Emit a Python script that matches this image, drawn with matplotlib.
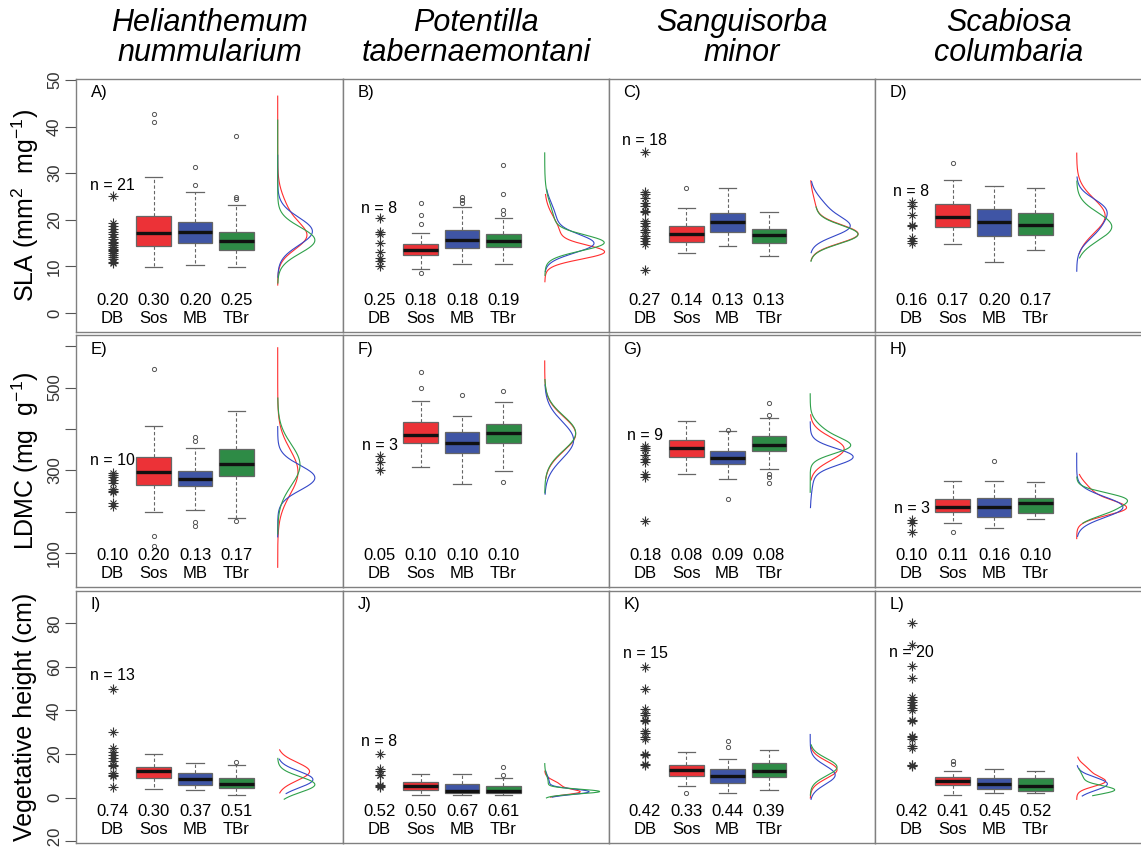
#!/usr/bin/env python3
"""Trait distributions of four grassland forbs: dispersal bank (DB) vs. the
three source populations (Sos, MB, TBr), with CVs and density outlines."""
import numpy as np
import matplotlib
matplotlib.use("Agg")
import matplotlib.pyplot as plt

species = ["Helianthemum\nnummularium", "Potentilla\ntabernaemontani",
           "Sanguisorba\nminor", "Scabiosa\ncolumbaria"]
groups = ["DB", "Sos", "MB", "TBr"]
traits = [r"SLA (mm$^{2}$  mg$^{-1}$)", r"LDMC (mg  g$^{-1}$)",
          "Vegetative height (cm)"]
letters = list("ABCDEFGHIJKL")

# y axis per trait row: ticks, which ticks get labels
row_ylim = [(-4.1, 50.2), (18, 626), (-20.8, 94.8)]
row_ticks = [[0, 10, 20, 30, 40, 50], [100, 200, 300, 400, 500, 600],
             [-20, 0, 20, 40, 60, 80]]
row_ticklabels = [["0", "10", "20", "30", "40", "50"],
                  ["100", "", "300", "", "500", ""],
                  ["\u221220", "0", "20", "40", "60", "80"]]

# dispersal bank: single values (panels A..L)
db_values = [
    [25.0, 19.3, 18.6, 18.0, 17.4, 16.9, 16.3, 15.8, 15.3, 14.9, 14.5, 14.1,
     13.8, 13.5, 13.2, 12.9, 12.4, 12.0, 11.5, 11.0, 10.8],
    [20.3, 17.3, 16.9, 15.1, 13.1, 11.7, 11.2, 10.1],
    [34.6, 26.0, 25.5, 24.6, 23.5, 22.9, 21.9, 21.6, 19.7, 19.3, 18.7, 17.8,
     17.3, 16.6, 16.0, 15.4, 14.8, 9.2],
    [23.9, 23.0, 21.0, 18.9, 18.6, 16.0, 15.4, 15.0],
    [293, 288, 283, 276, 270, 254, 250, 247, 220, 213],
    [334, 320, 302],
    [360, 355, 348, 336, 328, 320, 292, 284, 178],
    [179, 172, 150],
    [50, 30, 22.8, 21, 19.5, 18, 17, 15, 14.5, 11.3, 10.3, 9.8, 5],
    [20.0, 13.2, 12.0, 10.6, 10.2, 5.8, 5.4, 5.0],
    [60, 50, 40.5, 39, 38, 35.5, 35, 30.5, 29.5, 28, 27, 20, 19.5, 15.5, 15],
    [80, 70, 60.5, 55, 46, 45, 44, 42.5, 41, 40, 35.5, 35, 28.5, 28, 27,
     23.5, 23, 15, 15, 14.5],
]
n_label_y = [27.4, 22.5, 37, 26, 324, 360, 384, 208, 56, 25.7, 66, 66.5]

# box statistics: [lower whisker, q1, median, q3, upper whisker]
box_sos = [
    [9.9, 14.4, 17.1, 20.9, 29.1], [9.5, 12.4, 13.5, 14.8, 17.1],
    [12.9, 15.3, 16.9, 18.7, 22.5], [14.8, 18.4, 20.6, 23.3, 28.5],
    [199, 265, 296, 332, 407], [308, 366, 385, 418, 467],
    [292, 332, 355, 374, 419], [173, 200, 212, 231, 275],
    [4.1, 9.0, 12.1, 13.9, 20.0], [1.4, 3.4, 5.2, 7.0, 11.0],
    [5.2, 9.9, 12.8, 15.1, 21.0], [1.1, 6.0, 7.5, 9.6, 12.1],
]
out_sos = [[42.6, 40.9], [23.6, 21.0, 19.0, 8.5], [26.7], [32.2],
           [545, 141, 117], [537, 499], [], [150], [], [], [2.1], [16.7, 15.6]]

box_mb = [
    [10.2, 15.1, 17.3, 19.6, 25.9], [10.6, 13.9, 15.6, 17.7, 22.7],
    [14.4, 17.4, 19.5, 21.4, 26.7], [10.9, 16.5, 19.6, 22.4, 27.2],
    [205, 261, 280, 298, 355], [268, 342, 367, 392, 431],
    [278, 316, 331, 346, 395], [160, 187, 212, 233, 275],
    [3.4, 6.0, 8.4, 11.1, 16.1], [1.4, 2.2, 3.2, 6.3, 11.0],
    [2.1, 6.9, 10.1, 13.2, 17.9], [2.1, 4.1, 6.3, 9.0, 13.3],
]
out_mb = [[31.3, 27.4], [24.8, 24.2, 23.6], [], [], [380, 370, 175, 165],
          [481], [397, 230], [322], [], [], [26.1, 23.1], []]

box_tbr = [
    [9.8, 13.6, 15.5, 17.4, 23.2], [10.6, 14.1, 15.4, 16.9, 20.3],
    [12.2, 15.1, 16.8, 18.0, 21.6], [13.4, 16.8, 18.8, 21.5, 26.7],
    [186, 286, 315, 351, 443], [299, 366, 390, 412, 466],
    [304, 346, 362, 382, 427], [183, 196, 220, 233, 273],
    [1.1, 4.6, 6.3, 9.0, 15.1], [1.4, 2.0, 3.2, 5.4, 9.0],
    [3.4, 9.5, 12.1, 15.9, 22.0], [2.1, 3.2, 5.2, 9.0, 12.1],
]
out_tbr = [[38.0, 24.8, 24.5], [31.8, 25.5, 22.1, 21.2], [], [], [178],
           [493, 272], [462, 435, 292, 285, 270], [], [16.2], [14.1, 10.2],
           [], []]

# coefficients of variation: DB, Sos, MB, TBr
cv = [
    [0.20, 0.30, 0.20, 0.25], [0.25, 0.18, 0.18, 0.19],
    [0.27, 0.14, 0.13, 0.13], [0.16, 0.17, 0.20, 0.17],
    [0.10, 0.20, 0.13, 0.17], [0.05, 0.10, 0.10, 0.10],
    [0.18, 0.08, 0.09, 0.08], [0.10, 0.11, 0.16, 0.10],
    [0.74, 0.30, 0.37, 0.51], [0.52, 0.50, 0.67, 0.61],
    [0.42, 0.33, 0.44, 0.39], [0.42, 0.41, 0.45, 0.52],
]

# smoothed densities as normal mixtures: (weight, mean, sd)
dens_sos = [
    [(0.7, 16.3, 2.8), (0.3, 21.5, 3.5)], [(0.6, 13.0, 1.5), (0.4, 17.0, 3.5)],
    [(0.85, 16.9, 2.0), (0.15, 22, 3)], [(1, 20.8, 3.7)],
    [(1, 296, 55)], [(1, 388, 42)], [(1, 352, 28)],
    [(0.7, 208, 18), (0.3, 245, 25)], [(1, 12, 4.2)],
    [(0.5, 5.5, 2.2), (0.5, 2.5, 1.2)], [(1, 12.8, 4.0)],
    [(0.6, 7.2, 2.2), (0.4, 12, 3)],
]
dens_mb = [
    [(1, 17.5, 3.0)], [(0.7, 14.8, 2.0), (0.3, 20, 3.5)],
    [(0.6, 18.3, 2.0), (0.4, 22, 2.8)], [(0.5, 22.5, 2.3), (0.5, 18.3, 2.7)],
    [(1, 282, 30)], [(1, 373, 45)], [(0.85, 333, 20), (0.15, 300, 40)],
    [(1, 211, 25)], [(1, 8.3, 3.8)], [(0.8, 2.7, 1.3), (0.2, 7, 3)],
    [(1, 10.4, 4.3)], [(1, 6.3, 3.0)],
]
dens_tbr = [
    [(1, 15.6, 2.8)], [(0.7, 15.0, 1.7), (0.3, 19, 4)],
    [(0.85, 16.8, 2.0), (0.15, 22, 3)], [(1, 18.5, 3.0)],
    [(1, 313, 50)], [(1, 390, 42)], [(0.6, 357, 18), (0.4, 385, 25)],
    [(0.5, 233, 15), (0.5, 205, 18)], [(1, 6.0, 3.6)],
    [(0.85, 2.8, 1.1), (0.15, 7, 3)], [(1, 14.0, 4.0)],
    [(0.8, 3.5, 2.0), (0.2, 9, 3)],
]
dens_width = [0.9, 1.45, 1.16, 0.85, 0.9, 0.75, 1.04, 1.23, 0.9, 1.33, 0.65, 0.92]

BOX_FILL = ["#EC3237", "#3F55A5", "#2E8B46"]
LINE_COL = ["#FF2E2E", "#3347C8", "#2EA04A"]
GREY = "#666666"

W, H = 1141, 847
COL_LEFT = [76, 343, 608.5, 875]
COL_W = [267, 265.5, 266.5, 267]
ROW_TOP = [79, 335.5, 591]
ROW_H = [253, 251.5, 252]
STEP = 41.3          # px between group positions
FIRST = 36.5         # px from panel edge to DB column


def mixture(y, comps):
    d = np.zeros_like(y)
    for w, mu, sd in comps:
        d += w * np.exp(-0.5 * ((y - mu) / sd) ** 2) / (sd * np.sqrt(2 * np.pi))
    return d


def panel(fig, i):
    r, c = divmod(i, 4)
    l, t, w, h = COL_LEFT[c], ROW_TOP[r], COL_W[c], ROW_H[r]
    ax = fig.add_axes([l / W, 1 - (t + h) / H, w / W, h / H])
    x0 = 1 - FIRST / STEP
    y0, y1 = row_ylim[r]

    # dispersal bank points (R pch 8)
    vals = db_values[i]
    ax.plot([1] * len(vals), vals, ls="none", marker="+", ms=7, mew=0.8,
            color="#333333")
    ax.plot([1] * len(vals), vals, ls="none", marker="x", ms=5, mew=0.8,
            color="#333333")
    ax.text(1, n_label_y[i], "n = %d" % len(vals), ha="center", va="center",
            fontsize=11.5)

    boxes = [box_sos[i], box_mb[i], box_tbr[i]]
    outs = [out_sos[i], out_mb[i], out_tbr[i]]
    for k, (b, o) in enumerate(zip(boxes, outs)):
        st = dict(whislo=b[0], q1=b[1], med=b[2], q3=b[3], whishi=b[4],
                  fliers=o)
        ax.bxp([st], positions=[k + 2], widths=0.84, capwidths=0.42,
               patch_artist=True, showfliers=True, manage_ticks=False,
               boxprops=dict(facecolor=BOX_FILL[k], edgecolor=GREY, lw=0.9),
               medianprops=dict(color="#111111", lw=2.4, solid_capstyle="butt"),
               whiskerprops=dict(color=GREY, lw=0.8, ls=(0, (3, 2))),
               capprops=dict(color=GREY, lw=0.9),
               flierprops=dict(marker="o", mfc="none", mec="#555555", ms=3,
                               mew=0.7))

    # density outlines beside the boxes
    dens = [dens_sos[i], dens_mb[i], dens_tbr[i]]
    curves = []
    for k in range(3):
        b, o = boxes[k], outs[k]
        lo, hi = min([b[0]] + o), max([b[4]] + o)
        pad = 0.12 * (hi - lo)
        yy = np.linspace(lo - pad, hi + pad, 300)
        curves.append((yy, mixture(yy, dens[k])))
    top = max(d.max() for _, d in curves)
    for k, (yy, d) in enumerate(curves):
        ax.plot(5.0 + d / top * dens_width[i], yy, color=LINE_COL[k], lw=0.8)

    # CVs and group names along the bottom
    y_cv = y0 + 0.125 * (y1 - y0)
    y_grp = y0 + 0.054 * (y1 - y0)
    for g in range(4):
        ax.text(g + 1, y_cv, "%.2f" % cv[i][g], ha="center", va="center",
                fontsize=12)
        ax.text(g + 1, y_grp, groups[g], ha="center", va="center",
                fontsize=12)
    ax.text(15 / w, 1 - 14 / h, letters[i] + ")", transform=ax.transAxes,
            ha="left", va="center", fontsize=12)

    # frame and axes after all artists so nothing resets them
    ax.set_xlim(x0, x0 + w / STEP)
    ax.set_ylim(y0, y1)
    for s in ax.spines.values():
        s.set_color("#808080")
        s.set_linewidth(1.0)
    ax.set_xticks([])
    if c == 0:
        ax.set_yticks(row_ticks[r])
        ax.set_yticklabels(row_ticklabels[r], rotation=90, va="center",
                           fontsize=12, color="#333333")
        ax.tick_params(axis="y", length=8, width=0.8, color="#555555", pad=2)
    else:
        ax.set_yticks([])
    return ax


def main():
    plt.rcParams["font.family"] = ["Liberation Sans", "DejaVu Sans"]
    plt.rcParams["mathtext.fontset"] = "custom"
    plt.rcParams["mathtext.rm"] = "Liberation Sans"
    plt.rcParams["mathtext.it"] = "Liberation Sans:italic"
    fig = plt.figure(figsize=(W / 100, H / 100), dpi=100)
    for i in range(12):
        panel(fig, i)
    for c, name in enumerate(species):
        fig.text((COL_LEFT[c] + COL_W[c] / 2) / W, 1 - 38 / H, name,
                 ha="center", va="center", fontsize=22, style="italic",
                 linespacing=1.0)
    for r, lab in enumerate(traits):
        fig.text(25 / W, 1 - (ROW_TOP[r] + ROW_H[r] / 2) / H, lab,
                 rotation=90, ha="center", va="center", fontsize=18)
    fig.savefig("out.png", dpi=100)


if __name__ == "__main__":
    main()
